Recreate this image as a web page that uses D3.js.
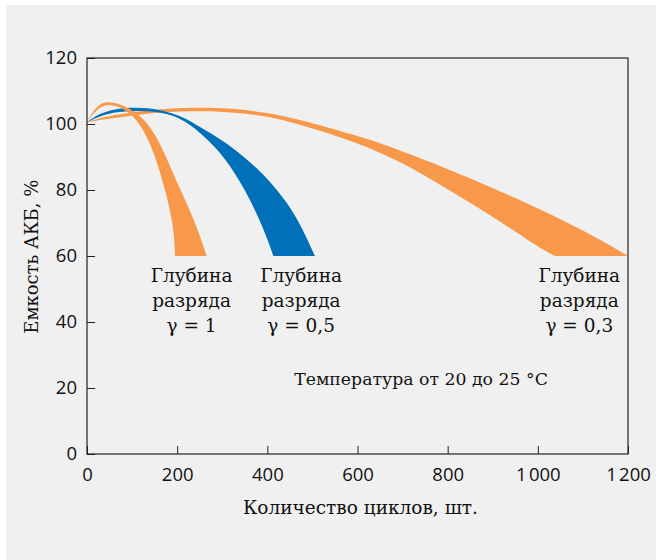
<!DOCTYPE html>
<html>
<head>
<meta charset="utf-8">
<script src="https://cdn.jsdelivr.net/npm/d3@7"></script>
<style>
  html, body { margin: 0; padding: 0; background: #ffffff; }
  svg { display: block; }
</style>
</head>
<body>
<svg id="chart" width="656" height="560"></svg>
<script>
// ---------- data ----------
const xTicks = [0, 200, 400, 600, 800, 1000, 1200];
const xTickLabels = ["0", "200", "400", "600", "800", "1\u202F000", "1\u202F200"];
const yTicks = [0, 20, 40, 60, 80, 100, 120];
const yTickLabels = ["0", "20", "40", "60", "80", "100", "120"];

// discharge depth γ = 0.3 (orange, widest)
const g03Upper = [[0,100.5],[30,101.8],[70,102.9],[120,103.9],[180,104.6],[250,104.9],[320,104.6],[400,103.3],[472,101.2],[561,97.9],[620,95.5],[700,91.7],[783,87.3],[857,83.1],[931,78.7],[1005,74.1],[1079,69.2],[1138,64.9],[1200,60]];
const g03Lower = [[0,100.5],[30,101.2],[70,102.0],[120,102.9],[180,103.6],[250,103.9],[320,103.5],[400,102.2],[472,99.8],[561,96.0],[620,93.0],[700,88.0],[783,81.6],[857,75.5],[931,69.1],[1005,62.5],[1038,60]];

// γ = 0.5 (blue)
const g05Upper = [[0,100.6],[28.8,103.0],[62.1,104.4],[106.5,104.9],[161.9,104.2],[217.4,101.7],[250.6,99.1],[306.1,94.4],[350.5,89.7],[394.8,84.1],[439.2,76.8],[472.5,69.5],[505.8,60]];
const g05Lower = [[0,100.6],[28.8,102.3],[62.1,103.5],[106.5,103.9],[150.8,103.6],[184.1,102.7],[206.3,101.5],[228.5,99.7],[250.6,97.3],[272.8,94.5],[295,91.2],[317.2,87.2],[339.4,82.4],[361.6,76.9],[383.7,70.5],[405.9,62.9],[413.2,60]];

// γ = 1 (orange, narrowest in cycles)
const g1Upper = [[0,100.6],[6.7,102.3],[15.5,104.1],[24.4,105.4],[33.3,106.2],[43.7,106.6],[62.1,106.4],[77.6,105.7],[91.6,104.8],[106.5,103.5],[117.6,102.3],[130.9,100.5],[144.2,98],[157.5,95],[169.2,91.8],[184.1,87.3],[202.5,81.5],[219.6,76.4],[235.8,71.2],[250.6,65.9],[265.5,60]];
const g1Lower = [[0,100.6],[8.9,102.3],[20,103.9],[31.1,105.1],[42.1,105.6],[55.5,105.6],[68.8,105.2],[82.1,104.3],[95.4,103],[108.7,101.2],[122,98.6],[135.3,95.2],[147.1,91.4],[157.5,87.3],[169.2,81.8],[178.6,77],[187.9,70.9],[193,65.8],[195.2,60]];

const bandLabels = [
  { x: 232, lines: ["Глубина", "разряда", "γ = 1"] },
  { x: 475, lines: ["Глубина", "разряда", "γ = 0,5"] },
  { x: 1092, lines: ["Глубина", "разряда", "γ = 0,3"] }
];
const noteText = "Температура от 20 до 25 °C";
const xTitle = "Количество циклов, шт.";
const yTitle = "Емкость АКБ, %";

// ---------- layout ----------
const W = 656, H = 560;
const plot = { left: 87, top: 58, right: 628, bottom: 454 };
const ORANGE = "#f7984a", BLUE = "#0070b8";
const SERIF = "'DejaVu Serif', serif";
const SANS = "'Open Sans', 'Noto Sans', sans-serif";

const svg = d3.select("#chart");
svg.append("rect").attr("x", 6).attr("y", 5).attr("width", W - 6).attr("height", H - 5).attr("fill", "#f0f0f0");

const x = d3.scaleLinear().domain([0, 1200]).range([plot.left, plot.right]);
const y = d3.scaleLinear().domain([0, 120]).range([plot.bottom, plot.top]);

const line = d3.line().x(d => x(d[0])).y(d => y(d[1])).curve(d3.curveCatmullRom.alpha(0.5));
function bandPath(upper, lower) {
  const a = line(upper);
  const b = line(lower.slice().reverse());
  return a + "L" + b.slice(1) + "Z";
}

const bands = svg.append("g");
bands.append("path").attr("d", bandPath(g03Upper, g03Lower)).attr("fill", ORANGE);
bands.append("path").attr("d", bandPath(g05Upper, g05Lower)).attr("fill", BLUE);
bands.append("path").attr("d", bandPath(g1Upper, g1Lower)).attr("fill", ORANGE);

// axes (ticks pointing inward)
const xAxis = d3.axisBottom(x).tickValues(xTicks).tickSize(-8).tickPadding(14)
  .tickFormat((d, i) => xTickLabels[i]);
const gx = svg.append("g").attr("transform", `translate(0,${plot.bottom})`).call(xAxis);
const yAxis = d3.axisLeft(y).tickValues(yTicks).tickSize(-8).tickPadding(10)
  .tickFormat((d, i) => yTickLabels[i]);
const gy = svg.append("g").attr("transform", `translate(${plot.left},0)`).call(yAxis);
[gx, gy].forEach(g => {
  g.select(".domain").remove();
  g.selectAll(".tick line").attr("stroke", "#222").attr("stroke-width", 1);
  g.selectAll(".tick text").attr("fill", "#111").style("font-family", SANS).style("font-size", "18.5px");
});
gx.selectAll(".tick text").attr("dy", "0.71em");

// frame
svg.append("rect")
  .attr("x", plot.left).attr("y", plot.top)
  .attr("width", plot.right - plot.left).attr("height", plot.bottom - plot.top)
  .attr("fill", "none").attr("stroke", "#222").attr("stroke-width", 1.2);

// titles
svg.append("text").attr("x", 360.5).attr("y", 514).attr("text-anchor", "middle")
  .style("font-family", SERIF).style("font-size", "18.5px").attr("fill", "#111").text(xTitle);
svg.append("text").attr("transform", "translate(38,256.7) rotate(-90)").attr("text-anchor", "middle")
  .style("font-family", SERIF).style("font-size", "18px").attr("fill", "#111").text(yTitle);

// band labels
bandLabels.forEach(b => {
  const t = svg.append("text").attr("text-anchor", "middle")
    .style("font-family", SERIF).style("font-size", "18.5px").attr("fill", "#111");
  b.lines.forEach((l, i) => {
    t.append("tspan").attr("x", x(b.x)).attr("y", 282 + i * 25).text(l);
  });
});

svg.append("text").attr("x", 421).attr("y", 385).attr("text-anchor", "middle")
  .style("font-family", SERIF).style("font-size", "17.3px").attr("fill", "#111").text(noteText);
</script>
</body>
</html>
